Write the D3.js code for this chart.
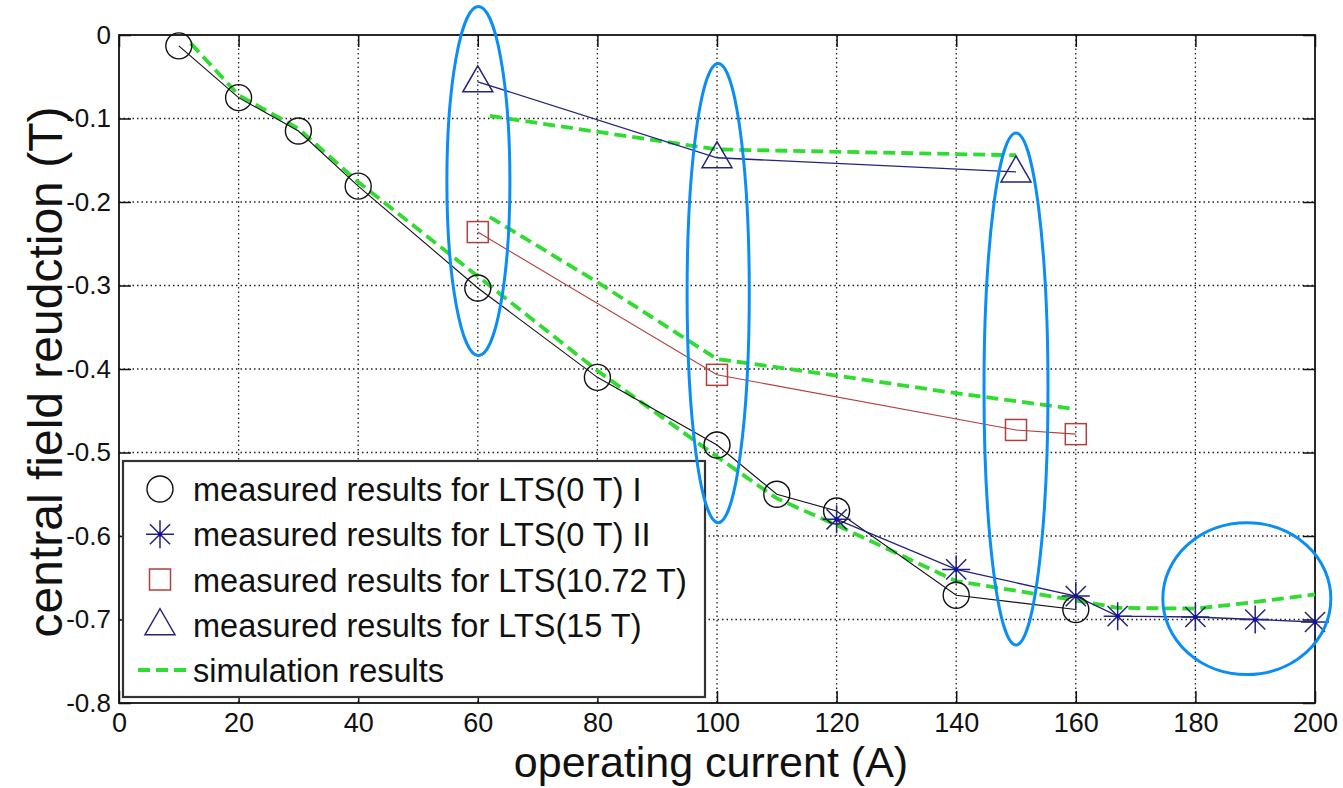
<!DOCTYPE html>
<html>
<head>
<meta charset="utf-8">
<script src="https://cdn.jsdelivr.net/npm/d3@7"></script>
<style>
  body { margin: 0; background: #fff; }
  svg { display: block; font-family: "Liberation Sans", Arial, sans-serif; }
</style>
</head>
<body>
<div id="chart"></div>
<script>
var currentI = [10, 20, 30, 40, 60, 80, 100, 110, 120, 140, 160];
var fieldI = [-0.013, -0.075, -0.115, -0.181, -0.303, -0.410, -0.491, -0.550, -0.570, -0.671, -0.688];

var currentII = [120, 140, 160, 167, 180, 190, 200];
var fieldII = [-0.580, -0.640, -0.672, -0.696, -0.697, -0.700, -0.703];

var current1072 = [60, 100, 150, 160];
var field1072 = [-0.236, -0.407, -0.473, -0.478];

var current15 = [60, 100, 150];
var field15 = [-0.056, -0.147, -0.164];

// simulation curves (three separate dashed lines)
var simCurrent0 = [12, 20, 30, 40, 60, 80, 100, 110, 120, 140, 160, 167, 180, 190, 200];
var simField0 = [-0.010, -0.072, -0.112, -0.176, -0.289, -0.402, -0.505, -0.555, -0.587, -0.654, -0.677, -0.686, -0.687, -0.679, -0.670];
var simCurrent1072 = [62, 80, 100, 120, 140, 160];
var simField1072 = [-0.218, -0.296, -0.388, -0.408, -0.429, -0.448];
var simCurrent15 = [62, 100, 150];
var simField15 = [-0.097, -0.137, -0.144];

// blue highlight ellipses (data units: centre x, centre y, half width, half height)
var markCx = [60.1, 100.2, 150, 188.6];
var markCy = [-0.175, -0.309, -0.424, -0.675];
var markRx = [5.27, 5.2, 5.35, 14.05];
var markRy = [0.209, 0.275, 0.3066, 0.091];

var xTicks = [0, 20, 40, 60, 80, 100, 120, 140, 160, 180, 200];
var yTicks = [0, -0.1, -0.2, -0.3, -0.4, -0.5, -0.6, -0.7, -0.8];

var legendLabels = [
    "measured results for LTS(0 T) I",
    "measured results for LTS(0 T) II",
    "measured results for LTS(10.72 T)",
    "measured results for LTS(15 T)",
    "simulation results"
];

function drawChart() {
    var W = 1343, H = 788;
    var pLeft = 119, pRight = 1315, pTop = 35, pBottom = 703;

    var navy = "#24247a", brick = "#b0403c", green = "#2fdc2f", ellBlue = "#0a8ef5";

    var x = d3.scaleLinear().domain([0, 200]).range([pLeft, pRight]);
    var y = d3.scaleLinear().domain([-0.8, 0]).range([pBottom, pTop]);

    var svg = d3.select("#chart").append("svg")
        .attr("width", W)
        .attr("height", H);

    // grid
    var grid = svg.append("g");
    grid.selectAll(".gx")
        .data(xTicks.slice(1, -1))
        .enter().append("line")
        .attr("x1", function(d) { return x(d); })
        .attr("x2", function(d) { return x(d); })
        .attr("y1", pTop).attr("y2", pBottom)
        .style("stroke", "#222")
        .style("stroke-width", 1.3)
        .style("stroke-dasharray", "1.5,3");
    grid.selectAll(".gy")
        .data(yTicks.slice(1, -1))
        .enter().append("line")
        .attr("y1", function(d) { return y(d); })
        .attr("y2", function(d) { return y(d); })
        .attr("x1", pLeft).attr("x2", pRight)
        .style("stroke", "#222")
        .style("stroke-width", 1.3)
        .style("stroke-dasharray", "1.5,3");

    // axes (MATLAB style: ticks inside on all four sides)
    var tickLen = 12;
    function styleAxis(g, size) {
        g.select(".domain").remove();
        g.attr("font-family", null).attr("font-size", null);
        g.selectAll("text").style("font-size", size).style("fill", "#111");
        g.selectAll("line").style("stroke", "#111").style("stroke-width", 1.5);
    }
    svg.append("g")
        .attr("transform", "translate(0," + pBottom + ")")
        .call(d3.axisBottom(x).tickValues(xTicks).tickSizeInner(-tickLen).tickSizeOuter(0).tickPadding(10).tickFormat(d3.format("d")))
        .call(function(g) { styleAxis(g, "27px"); });
    svg.append("g")
        .attr("transform", "translate(0," + pTop + ")")
        .call(d3.axisTop(x).tickValues(xTicks).tickSizeInner(-tickLen).tickSizeOuter(0).tickFormat(""))
        .call(function(g) { styleAxis(g, "27px"); });
    svg.append("g")
        .attr("transform", "translate(" + pLeft + ",0)")
        .call(d3.axisLeft(y).tickValues(yTicks).tickSizeInner(-tickLen).tickSizeOuter(0).tickPadding(8)
            .tickFormat(function(d) { return d === 0 ? "0" : d.toFixed(1); }))
        .call(function(g) { styleAxis(g, "26px"); });
    svg.append("g")
        .attr("transform", "translate(" + pRight + ",0)")
        .call(d3.axisRight(y).tickValues(yTicks).tickSizeInner(-tickLen).tickSizeOuter(0).tickFormat(""))
        .call(function(g) { styleAxis(g, "26px"); });

    svg.append("rect")
        .attr("x", pLeft).attr("y", pTop)
        .attr("width", pRight - pLeft).attr("height", pBottom - pTop)
        .style("fill", "none")
        .style("stroke", "#111")
        .style("stroke-width", 1.8);

    // axis titles
    svg.append("text")
        .attr("x", (pLeft + pRight) / 2 - 6)
        .attr("y", 777)
        .attr("text-anchor", "middle")
        .style("font-size", "43px")
        .style("fill", "#111")
        .text("operating current (A)");
    svg.append("text")
        .attr("transform", "translate(62,372) rotate(-90)")
        .attr("text-anchor", "middle")
        .style("font-size", "48px")
        .style("fill", "#111")
        .text("central field reudction (T)");

    function zip(xs, ys) {
        return xs.map(function(v, i) { return {x: v, y: ys[i]}; });
    }

    var line = d3.line()
        .x(function(d) { return x(d.x); })
        .y(function(d) { return y(d.y); });

    var plot = svg.append("g");

    // simulation (drawn first, under the measured lines)
    [zip(simCurrent0, simField0), zip(simCurrent1072, simField1072), zip(simCurrent15, simField15)].forEach(function(s) {
        plot.append("path")
            .attr("d", line(s))
            .style("fill", "none")
            .style("stroke", green)
            .style("stroke-width", 3.8)
            .style("stroke-dasharray", "12,6");
    });

    var dataI = zip(currentI, fieldI),
        dataII = zip(currentII, fieldII),
        data1072 = zip(current1072, field1072),
        data15 = zip(current15, field15);

    plot.append("path").attr("d", line(dataI))
        .style("fill", "none").style("stroke", "#111").style("stroke-width", 1.1);
    plot.append("path").attr("d", line(dataII))
        .style("fill", "none").style("stroke", navy).style("stroke-width", 1.3);
    plot.append("path").attr("d", line(data1072))
        .style("fill", "none").style("stroke", brick).style("stroke-width", 1.1);
    plot.append("path").attr("d", line(data15))
        .style("fill", "none").style("stroke", navy).style("stroke-width", 1.3);

    // marker shapes
    function drawCircle(g, cx, cy) {
        g.append("circle").attr("cx", cx).attr("cy", cy).attr("r", 13)
            .style("fill", "none").style("stroke", "#111").style("stroke-width", 1.4);
    }
    function drawStar(g, cx, cy) {
        var r = 14, d = r * 0.72;
        var p = "M" + (cx - r) + "," + cy + "H" + (cx + r) +
            "M" + cx + "," + (cy - r) + "V" + (cy + r) +
            "M" + (cx - d) + "," + (cy - d) + "L" + (cx + d) + "," + (cy + d) +
            "M" + (cx - d) + "," + (cy + d) + "L" + (cx + d) + "," + (cy - d);
        g.append("path").attr("d", p)
            .style("fill", "none").style("stroke", navy).style("stroke-width", 1.5);
        g.append("circle").attr("cx", cx).attr("cy", cy).attr("r", 2.2).style("fill", "#1010b0");
    }
    function drawSquare(g, cx, cy) {
        g.append("rect").attr("x", cx - 10.5).attr("y", cy - 10.5).attr("width", 21).attr("height", 21)
            .style("fill", "none").style("stroke", brick).style("stroke-width", 1.5);
    }
    function drawTriangle(g, cx, cy) {
        var p = "M" + cx + "," + (cy - 16) + "L" + (cx + 15) + "," + (cy + 10) + "L" + (cx - 15) + "," + (cy + 10) + "Z";
        g.append("path").attr("d", p)
            .style("fill", "none").style("stroke", navy).style("stroke-width", 1.5);
    }

    dataI.forEach(function(d) { drawCircle(plot, x(d.x), y(d.y)); });
    dataII.forEach(function(d) { drawStar(plot, x(d.x), y(d.y)); });
    data1072.forEach(function(d) { drawSquare(plot, x(d.x), y(d.y)); });
    data15.forEach(function(d) { drawTriangle(plot, x(d.x), y(d.y)); });

    // legend
    var lg = svg.append("g");
    lg.append("rect")
        .attr("x", 123).attr("y", 461)
        .attr("width", 582).attr("height", 236)
        .style("fill", "#fff")
        .style("stroke", "#333")
        .style("stroke-width", 2.2);
    var rowY = d3.scaleLinear().domain([0, 4]).range([489, 670]);
    var drawers = [drawCircle, drawStar, drawSquare, drawTriangle];
    legendLabels.forEach(function(label, i) {
        var cy = rowY(i);
        if (i < 4) {
            drawers[i](lg, 160, cy);
        } else {
            lg.append("line")
                .attr("x1", 138).attr("x2", 190)
                .attr("y1", cy).attr("y2", cy)
                .style("stroke", green).style("stroke-width", 3.8)
                .style("stroke-dasharray", "12,6");
        }
        lg.append("text")
            .attr("x", 193)
            .attr("y", cy + 12)
            .style("font-size", "32.5px")
            .style("fill", "#111")
            .text(label);
    });

    // blue highlight ellipses
    svg.append("g").selectAll("ellipse")
        .data(markCx)
        .enter().append("ellipse")
        .attr("cx", function(d) { return x(d); })
        .attr("cy", function(d, i) { return y(markCy[i]); })
        .attr("rx", function(d, i) { return x(markRx[i]) - x(0); })
        .attr("ry", function(d, i) { return y(-markRy[i]) - y(0); })
        .style("fill", "none")
        .style("stroke", ellBlue)
        .style("stroke-width", 3);
}

drawChart();
</script>
</body>
</html>
